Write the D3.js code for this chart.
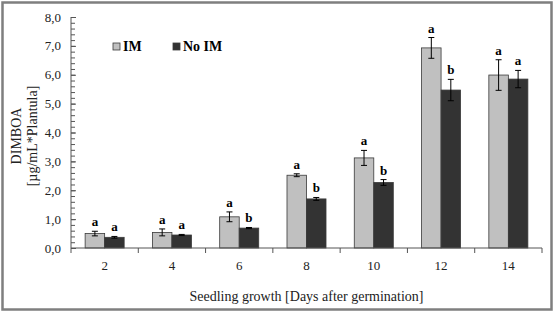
<!DOCTYPE html>
<html>
<head>
<meta charset="utf-8">
<script src="https://cdn.jsdelivr.net/npm/d3@7"></script>
<style>
  body { margin: 0; background: #fff; }
  text { font-family: "Liberation Serif", "Times New Roman", serif; }
</style>
</head>
<body>
<div id="chart"></div>
<script>
// Data
const days = ["2", "4", "6", "8", "10", "12", "14"];
const seriesNames = ["IM", "No IM"];
const imValues = [0.50, 0.54, 1.08, 2.52, 3.12, 6.93, 5.99];
const imErrors = [0.08, 0.12, 0.17, 0.05, 0.26, 0.36, 0.53];
const imLetters = ["a", "a", "a", "a", "a", "a", "a"];
const noImValues = [0.37, 0.45, 0.69, 1.70, 2.27, 5.47, 5.85];
const noImErrors = [0.03, 0.02, 0.02, 0.05, 0.10, 0.37, 0.30];
const noImLetters = ["a", "a", "b", "b", "b", "b", "a"];
const yTicks = [0, 1, 2, 3, 4, 5, 6, 7, 8];

const colors = { "IM": "#c0c0c0", "No IM": "#333333" };

const W = 555, H = 313;
const margin = { top: 17, right: 13, bottom: 65, left: 71 };
const width = W - margin.left - margin.right,
      height = H - margin.top - margin.bottom;

const root = d3.select("#chart").append("svg")
    .attr("width", W)
    .attr("height", H);

// Outer frame
root.append("rect")
    .attr("x", 2.5).attr("y", 2.5)
    .attr("width", W - 6).attr("height", H - 6)
    .attr("fill", "none")
    .attr("stroke", "#7f7f7f")
    .attr("stroke-width", 2.5);

const svg = root.append("g")
    .attr("transform", `translate(${margin.left},${margin.top})`);

// Scales
const x = d3.scaleBand()
    .domain(days)
    .range([0, width]);

const xInner = d3.scaleBand()
    .domain(seriesNames)
    .range([0, x.bandwidth() * 0.58])
    .padding(0);

const y = d3.scaleLinear()
    .domain([0, 8])
    .range([height, 0]);

const groupOffset = (x.bandwidth() - x.bandwidth() * 0.58) / 2;

// Build rows
const rows = [];
days.forEach((d, i) => {
    rows.push({ day: d, s: "IM", v: imValues[i], e: imErrors[i], l: imLetters[i] });
    rows.push({ day: d, s: "No IM", v: noImValues[i], e: noImErrors[i], l: noImLetters[i] });
});

const barX = d => x(d.day) + groupOffset + xInner(d.s);

// Bars
svg.append("g").selectAll("rect")
    .data(rows)
    .join("rect")
    .attr("x", d => barX(d))
    .attr("y", d => y(d.v))
    .attr("width", xInner.bandwidth())
    .attr("height", d => height - y(d.v))
    .attr("fill", d => colors[d.s])
    .attr("stroke", "#3a3a3a")
    .attr("stroke-width", 0.8);

// Error bars
const err = svg.append("g").attr("stroke", "#000").attr("stroke-width", 1);
rows.forEach(d => {
    const cx = barX(d) + xInner.bandwidth() / 2;
    err.append("line")
        .attr("x1", cx).attr("x2", cx)
        .attr("y1", y(d.v + d.e)).attr("y2", y(d.v - d.e));
    [d.v + d.e, d.v - d.e].forEach(v => {
        err.append("line")
            .attr("x1", cx - 3).attr("x2", cx + 3)
            .attr("y1", y(v)).attr("y2", y(v));
    });
});

// Significance letters
svg.append("g").selectAll("text")
    .data(rows)
    .join("text")
    .attr("x", d => barX(d) + xInner.bandwidth() / 2)
    .attr("y", d => y(d.v + d.e) - 5)
    .attr("text-anchor", "middle")
    .style("font-size", "13px")
    .style("font-weight", "bold")
    .text(d => d.l);

// Y axis (major ticks + minor ticks inside)
const fmt = v => d3.format(".1f")(v).replace(".", ",");
const yAxis = svg.append("g")
    .call(d3.axisRight(y).tickValues(yTicks).tickSize(5).tickFormat(""));
yAxis.select(".domain").attr("stroke", "#555").attr("d", `M0,0V${height}`);
yAxis.selectAll(".tick line").attr("stroke", "#555");

svg.append("g")
    .call(d3.axisRight(y).tickValues(d3.range(0, 8.01, 0.2)).tickSize(4).tickFormat(""))
    .call(g => g.select(".domain").remove())
    .selectAll(".tick line").attr("stroke", "#555");

svg.append("g").selectAll("text")
    .data(yTicks)
    .join("text")
    .attr("x", -10)
    .attr("y", d => y(d))
    .attr("dy", "0.35em")
    .attr("text-anchor", "end")
    .style("font-size", "13px")
    .attr("fill", "#222")
    .text(fmt);

// X axis
svg.append("line")
    .attr("x1", 0).attr("x2", width)
    .attr("y1", height).attr("y2", height)
    .attr("stroke", "#555");

const bounds = d3.range(days.length + 1).map(i => i * x.step());
svg.append("g").selectAll("line")
    .data(bounds)
    .join("line")
    .attr("x1", d => d).attr("x2", d => d)
    .attr("y1", height).attr("y2", height + 5)
    .attr("stroke", "#555");

svg.append("g").selectAll("text")
    .data(days)
    .join("text")
    .attr("x", d => x(d) + x.bandwidth() / 2)
    .attr("y", height + 22)
    .attr("text-anchor", "middle")
    .style("font-size", "13px")
    .attr("fill", "#222")
    .text(d => d);

// Axis titles
svg.append("text")
    .attr("x", width / 2)
    .attr("y", height + 53)
    .attr("text-anchor", "middle")
    .style("font-size", "14px")
    .attr("fill", "#222")
    .text("Seedling growth [Days after germination]");

const yTitle = root.append("text")
    .attr("transform", `translate(24, 136) rotate(-90)`)
    .attr("text-anchor", "middle")
    .style("font-size", "14px")
    .attr("fill", "#222");
yTitle.append("tspan").attr("x", 0).attr("dy", "-0.2em").text("DIMBOA");
yTitle.append("tspan").attr("x", 0).attr("dy", "1.15em").text("[µg/mL*Plantula]");

// Legend
const legend = root.append("g");
seriesNames.forEach((s, i) => {
    const lx = 113 + i * 60;
    legend.append("rect")
        .attr("x", lx).attr("y", 43)
        .attr("width", 7).attr("height", 7)
        .attr("fill", colors[s])
        .attr("stroke", "#3a3a3a")
        .attr("stroke-width", 0.8);
    legend.append("text")
        .attr("x", lx + 10).attr("y", 51)
        .style("font-size", "14px")
        .style("font-weight", "bold")
        .text(s);
});
</script>
</body>
</html>
